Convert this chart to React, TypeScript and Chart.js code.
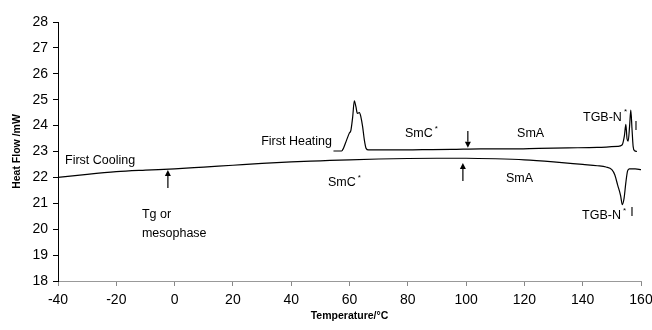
import { useEffect, useRef } from "react";
import { Chart, registerables } from "chart.js";

Chart.register(...registerables);

// ---- Data ----
const coolingT = [-40, -30, -20, -10, 0, 10, 20, 30, 40, 50, 60, 70, 80, 90, 100, 110, 120, 130, 140, 145, 148, 150, 151, 152, 153, 153.6, 154.2, 154.8, 155.4, 156, 157, 158, 160];
const coolingHF = [22.0, 22.12, 22.22, 22.28, 22.33, 22.4, 22.47, 22.54, 22.6, 22.64, 22.68, 22.71, 22.73, 22.74, 22.74, 22.72, 22.68, 22.6, 22.5, 22.45, 22.4, 22.3, 22.1, 21.7, 21.3, 20.95, 21.2, 21.8, 22.25, 22.33, 22.33, 22.33, 22.3];

const heatingT = [54.5, 57.3, 57.9, 59.0, 59.9, 60.5, 61.1, 61.65, 62.2, 62.7, 63.4, 63.9, 64.5, 65.1, 65.7, 66.5, 75, 85, 95, 105, 115, 125, 135, 145, 152, 153.5, 154.3, 154.8, 155.2, 155.6, 156.1, 156.5, 156.9, 157.3, 157.8, 158.6];
const heatingHF = [23.02, 23.02, 23.12, 23.44, 23.7, 23.83, 24.34, 24.96, 24.73, 24.47, 24.5, 24.34, 23.96, 23.44, 23.12, 23.06, 23.06, 23.07, 23.08, 23.1, 23.1, 23.12, 23.14, 23.16, 23.2, 23.25, 23.6, 24.05, 23.5, 23.4, 24.0, 24.6, 23.9, 23.2, 23.03, 23.0];

const xTickValues = [-40, -20, 0, 20, 40, 60, 80, 100, 120, 140, 160];
const yTickValues = [18, 19, 20, 21, 22, 23, 24, 25, 26, 27, 28];

const xTitle = "Temperature/°C";
const yTitle = "Heat Flow /mW";

const FONT = "'Liberation Sans', Arial, Helvetica, sans-serif";

type Label = { text: string; sup?: string; t: number; v: number; align: CanvasTextAlign };
const labels: Label[] = [
  { text: "First Cooling", t: -37.6, v: 22.67, align: "left" },
  { text: "Tg or", t: -11.2, v: 20.55, align: "left" },
  { text: "mesophase", t: -11.2, v: 19.85, align: "left" },
  { text: "First Heating", t: 54.0, v: 23.37, align: "right" },
  { text: "SmC", sup: "*", t: 79, v: 23.68, align: "left" },
  { text: "SmA", t: 117.5, v: 23.71, align: "left" },
  { text: "TGB-N", sup: "*", t: 140.1, v: 24.33, align: "left" },
  { text: "I", t: 158.3, v: 23.95, align: "center" },
  { text: "SmC", sup: "*", t: 52.6, v: 21.8, align: "left" },
  { text: "SmA", t: 113.7, v: 21.96, align: "left" },
  { text: "TGB-N", sup: "*", t: 139.8, v: 20.51, align: "left" },
  { text: "I", t: 156.9, v: 20.66, align: "center" },
];

type Arrow = { t: number; from: number; to: number };
const arrows: Arrow[] = [
  { t: 100.6, from: 23.79, to: 23.14 },
  { t: 98.9, from: 21.86, to: 22.56 },
  { t: -2.3, from: 21.59, to: 22.29 },
];

const annotationPlugin = {
  id: "dscAnnotations",
  afterDatasetsDraw(chart: any) {
    const { ctx, scales } = chart;
    const xs = scales.x;
    const ys = scales.y;
    ctx.save();
    ctx.fillStyle = "#000";
    ctx.strokeStyle = "#000";
    ctx.textBaseline = "middle";
    const mainFont = `12.5px ${FONT}`;
    const supFont = `8px ${FONT}`;
    for (const l of labels) {
      const x = xs.getPixelForValue(l.t);
      const y = ys.getPixelForValue(l.v);
      ctx.font = mainFont;
      ctx.textAlign = l.align;
      ctx.fillText(l.text, x, y);
      if (l.sup) {
        const w = ctx.measureText(l.text).width;
        let endX = x + w;
        if (l.align === "right") endX = x;
        if (l.align === "center") endX = x + w / 2;
        ctx.font = supFont;
        ctx.textAlign = "left";
        ctx.fillText(l.sup, endX + 2, y - 5);
      }
    }
    ctx.lineWidth = 1.2;
    for (const a of arrows) {
      const x = xs.getPixelForValue(a.t);
      const y0 = ys.getPixelForValue(a.from);
      const y1 = ys.getPixelForValue(a.to);
      const dir = y1 > y0 ? 1 : -1;
      const head = 6;
      ctx.beginPath();
      ctx.moveTo(x, y0);
      ctx.lineTo(x, y1 - dir * head);
      ctx.stroke();
      ctx.beginPath();
      ctx.moveTo(x, y1);
      ctx.lineTo(x - 3, y1 - dir * head);
      ctx.lineTo(x + 3, y1 - dir * head);
      ctx.closePath();
      ctx.fill();
    }
    ctx.restore();
  },
};

export default function App() {
  const ref = useRef<HTMLCanvasElement | null>(null);
  useEffect(() => {
    if (!ref.current) return;
    const chart = new Chart(ref.current, {
      type: "line",
      data: {
        datasets: [
          {
            label: "First Cooling",
            data: coolingT.map((t, i) => ({ x: t, y: coolingHF[i] })),
            borderColor: "#000",
            borderWidth: 1.2,
            pointRadius: 0,
            cubicInterpolationMode: "monotone",
            fill: false,
          },
          {
            label: "First Heating",
            data: heatingT.map((t, i) => ({ x: t, y: heatingHF[i] })),
            borderColor: "#000",
            borderWidth: 1.2,
            pointRadius: 0,
            cubicInterpolationMode: "monotone",
            fill: false,
          },
        ],
      },
      options: {
        responsive: false,
        animation: false,
        layout: { padding: { left: 0, top: 22, right: 11, bottom: 0 } },
        plugins: { legend: { display: false }, tooltip: { enabled: false } },
        scales: {
          x: {
            type: "linear",
            min: -40,
            max: 160,
            afterBuildTicks: (s: any) => {
              s.ticks = xTickValues.map((v) => ({ value: v }));
            },
            afterFit: (s: any) => {
              s.height = 49;
              s.paddingRight = 0;
              s.paddingLeft = 0;
            },
            ticks: {
              color: "#000",
              font: { family: FONT, size: 14 },
              padding: 6,
              maxRotation: 0,
              autoSkip: false,
            },
            grid: { display: true, drawOnChartArea: false, drawTicks: true, tickLength: 5, color: "#888" },
            border: { display: true, color: "#999", width: 1 },
            title: {
              display: true,
              text: xTitle,
              color: "#000",
              font: { family: FONT, size: 10.5, weight: "bold" },
              padding: { top: 0, bottom: 8 },
            },
          },
          y: {
            type: "linear",
            min: 18,
            max: 28,
            afterBuildTicks: (s: any) => {
              s.ticks = yTickValues.map((v) => ({ value: v }));
            },
            afterFit: (s: any) => {
              s.width = 58;
              s.paddingTop = 0;
              s.paddingBottom = 0;
            },
            ticks: {
              color: "#000",
              font: { family: FONT, size: 14 },
              padding: 5,
              autoSkip: false,
            },
            grid: { display: true, drawOnChartArea: false, drawTicks: true, tickLength: 5, color: "#000" },
            border: { display: true, color: "#000", width: 1 },
            title: {
              display: true,
              text: yTitle,
              color: "#000",
              font: { family: FONT, size: 10.5, weight: "bold" },
              padding: { top: 11, bottom: 0 },
            },
          },
        },
      },
      plugins: [annotationPlugin],
    } as any);
    return () => chart.destroy();
  }, []);
  return (
    <div style={{ position: "absolute", left: 0, top: 0, width: 652, height: 330, background: "#fff" }}>
      <canvas ref={ref} width={652} height={330} />
    </div>
  );
}
